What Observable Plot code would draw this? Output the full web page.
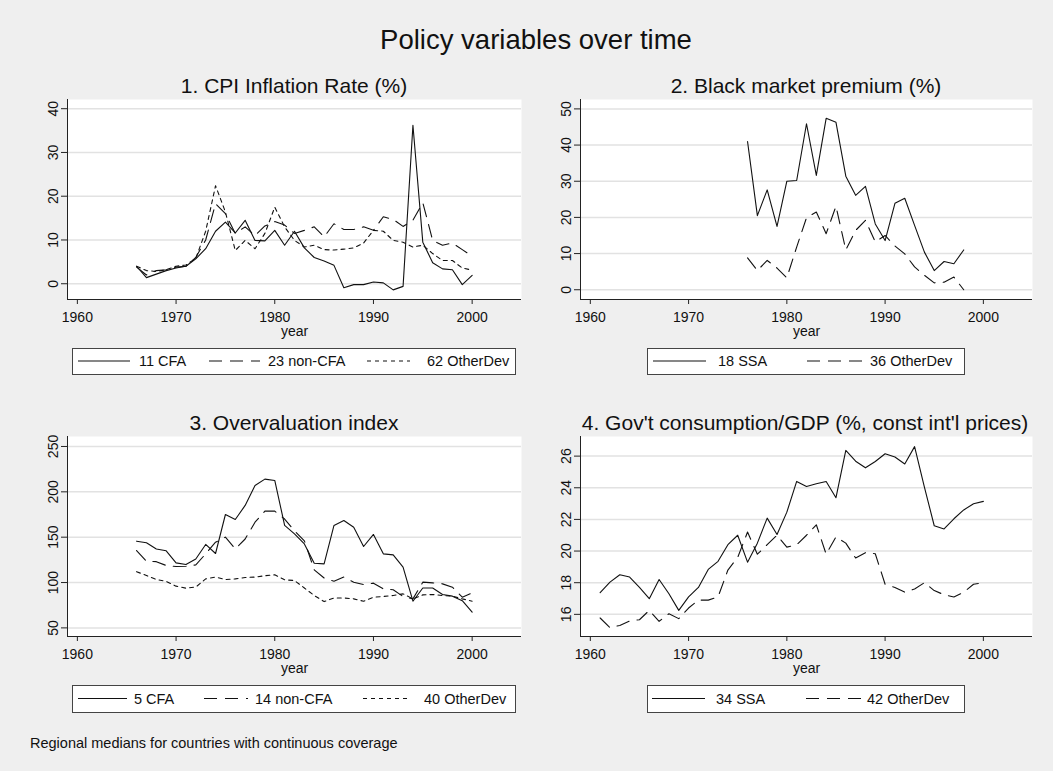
<!DOCTYPE html>
<html><head><meta charset="utf-8">
<script src="https://cdn.jsdelivr.net/npm/d3@7"></script>
<script src="https://cdn.jsdelivr.net/npm/@observablehq/plot@0.6"></script>
<style>
body{margin:0;background:#efefef;}
#root{position:relative;width:1053px;height:771px;background:#efefef;overflow:hidden}
#root > svg{position:absolute}
</style></head><body><div id="root"></div>
<script>
// ---------- data ----------
const years1 = [1966,1967,1968,1969,1970,1971,1972,1973,1974,1975,1976,1977,1978,1979,1980,1981,1982,1983,1984,1985,1986,1987,1988,1989,1990,1991,1992,1993,1994,1995,1996,1997,1998,1999,2000];
const cpiCFA    = [4.0,1.4,2.2,3.0,3.6,4.0,5.7,8.0,12.0,14.1,11.6,14.5,9.9,9.8,12.2,8.8,12.0,8.2,6.0,5.2,4.2,-0.9,-0.2,-0.2,0.4,0.2,-1.4,-0.6,36.2,9.5,4.8,3.4,3.2,-0.2,1.9];
const cpiNonCFA = [3.8,2.0,3.0,3.2,3.8,4.0,6.0,10.0,18.3,16.0,11.5,13.0,11.0,13.2,14.2,13.4,11.5,12.2,13.0,10.7,13.7,12.4,12.4,13.0,12.2,15.3,14.7,13.1,14.5,18.5,9.9,8.8,9.3,7.8,6.3];
const cpiOther  = [4.0,3.0,2.8,3.2,4.0,4.3,5.8,12.0,22.4,16.4,7.6,9.9,8.0,11.5,17.5,13.0,9.9,8.4,8.8,7.8,7.7,7.9,8.2,9.3,12.2,12.0,9.9,9.5,8.4,8.8,6.9,5.3,5.3,3.6,3.1];

const years2 = [1976,1977,1978,1979,1980,1981,1982,1983,1984,1985,1986,1987,1988,1989,1990,1991,1992,1993,1994,1995,1996,1997,1998];
const bmpSSA   = [41.0,20.5,27.6,17.5,30.0,30.2,45.9,31.6,47.4,46.3,31.4,26.1,28.6,18.2,13.6,23.9,25.3,17.8,10.4,5.3,7.8,7.2,11.0];
const bmpOther = [8.8,5.3,8.1,6.0,3.3,11.8,19.9,21.5,15.5,23.1,11.0,16.4,19.2,13.2,15.0,12.1,9.9,6.3,4.0,1.9,2.1,3.5,0.0];

const years3 = years1;
const ovCFA    = [145.6,143.8,137,135,121.7,119.9,126,142,132,175,169.5,185,207,214,212.5,163,153.7,142.6,121.3,120.6,162.9,168.4,161,139.7,153,131.6,130.5,117,79.4,94,94,86.8,85,80,67.3];
const ovNonCFA = [135.3,123.5,123,118.8,117.6,118,119.5,131.6,144.5,150,137,148,166.5,178.7,178.7,170,157,146,114,105,101.5,106,100.4,97.8,99.3,93,92,84.6,82,100.4,99.6,98.5,94.9,83.8,88.6];
const ovOther  = [112,107.7,103.3,101.3,96,93.8,95,104,106,103.3,104,105.5,106,107.5,108.5,103,102.2,94,85.7,79,83,83,82,79.4,83.8,84.6,85.7,87.5,82,86.4,86.8,85.7,85,82,79.4];

const years4 = [1961,1962,1963,1964,1965,1966,1967,1968,1969,1970,1971,1972,1973,1974,1975,1976,1977,1978,1979,1980,1981,1982,1983,1984,1985,1986,1987,1988,1989,1990,1991,1992,1993,1994,1995,1996,1997,1998,1999,2000];
const gcSSA   = [17.37,18.04,18.5,18.36,17.7,16.99,18.2,17.3,16.25,17.1,17.7,18.84,19.35,20.4,21.0,19.3,20.5,22.08,21.05,22.46,24.4,24.08,24.25,24.4,23.37,26.36,25.68,25.26,25.66,26.15,25.94,25.5,26.6,24.04,21.6,21.4,22.04,22.6,22.99,23.14];
const gcOther = [15.77,15.16,15.3,15.58,15.66,16.25,15.56,16.04,15.73,16.4,16.9,16.9,17.1,18.8,19.6,21.2,19.8,20.4,21.0,20.25,20.4,21.0,21.66,19.8,20.9,20.5,19.56,19.9,19.83,17.9,17.7,17.4,17.6,18.0,17.5,17.24,17.1,17.4,17.9,18.0];

const xTicks = [1960,1970,1980,1990,2000];
const yTicks1 = [0,10,20,30,40];
const yTicks2 = [0,10,20,30,40,50];
const yTicks3 = [50,100,150,200,250];
const yTicks4 = [16,18,20,22,24,26];

const mainTitle = "Policy variables over time";
const titles = ["1. CPI Inflation Rate (%)","2. Black market premium (%)","3. Overvaluation index","4. Gov't consumption/GDP (%, const int'l prices)"];
const legend1 = ["11 CFA","23 non-CFA","62 OtherDev"];
const legend2 = ["18 SSA","36 OtherDev"];
const legend3 = ["5 CFA","14 non-CFA","40 OtherDev"];
const legend4 = ["34 SSA","42 OtherDev"];
const caption = "Regional medians for countries with continuous coverage";

// ---------- styling ----------
const FONT = '"Liberation Sans", Arial, Helvetica, sans-serif';
const INK = "#111";
const SOLID = null, LONG = "13,8", SHORT = "4,4";
const xDomain = [1959, 2005];
const root = document.getElementById("root");

function rows(years, vals){ return years.map((y,i)=>({year:y, value:vals[i]})); }

function panel(cfg){
  const marks = [
    Plot.frame({fill:"white", stroke:"none"}),
    Plot.gridY(cfg.yTicks, {stroke:"#e2e2e2", strokeOpacity:1, strokeWidth:1.5}),
    Plot.ruleX([xDomain[0]], {stroke:"#222", strokeWidth:1}),
    Plot.ruleY([cfg.yDomain[0]], {stroke:"#222", strokeWidth:1}),
    Plot.axisX(xTicks, {tickSize:5, tickPadding:8, tickFormat:d=>String(d), label:null, fontSize:14, stroke:"#222", fill:"#111"}),
    Plot.axisY(cfg.yTicks, {tickSize:6, tickPadding:4, tickRotate:-90, tickFormat:d=>String(d), label:null, fontSize:14, stroke:"#222", fill:"#111"}),
    ...cfg.series.map(s => Plot.line(rows(cfg.years, s.values), {x:"year", y:"value", stroke:INK, strokeWidth:1.1, strokeDasharray:s.dash ?? undefined})),
    Plot.text(["year"], {frameAnchor:"bottom", dy:36, lineAnchor:"bottom", fontSize:14, fill:"#111"})
  ];
  const svg = Plot.plot({
    width: cfg.width, height: 280,
    marginLeft: cfg.mL, marginRight: cfg.mR, marginTop: 29, marginBottom: 51,
    x: {domain: xDomain},
    y: {domain: cfg.yDomain},
    style: {fontFamily: FONT, fontSize: "14px", background: "transparent", overflow: "visible"},
    marks
  });
  svg.style.left = cfg.left + "px";
  svg.style.top = cfg.top + "px";
  root.appendChild(svg);
}

// overlay for titles, legends, caption
const ov = d3.select(root).append("svg").attr("width",1053).attr("height",771)
  .style("left","0px").style("top","0px").style("font-family",FONT);

ov.append("text").attr("x",536).attr("y",48.5).attr("text-anchor","middle")
  .attr("font-size",27.5).attr("fill","#111").text(mainTitle);
[[294,92.5],[806,92.5],[294,430],[805,430]].forEach(([x,y],i)=>{
  ov.append("text").attr("x",x).attr("y",y).attr("text-anchor","middle")
    .attr("font-size",21).attr("fill","#111").text(titles[i]);
});
ov.append("text").attr("x",30).attr("y",748).attr("font-size",14.5).attr("fill","#111").text(caption);

function legend(box, items){
  ov.append("rect").attr("x",box.x+0.5).attr("y",box.y+0.5).attr("width",box.w).attr("height",box.h)
    .attr("fill","white").attr("stroke","#444").attr("stroke-width",1);
  const cy = box.y + box.h/2;
  items.forEach(it=>{
    ov.append("line").attr("x1",it.x1).attr("x2",it.x2).attr("y1",cy).attr("y2",cy)
      .attr("stroke",INK).attr("stroke-width",1.2).attr("stroke-dasharray",it.dash||null);
    ov.append("text").attr("x",it.tx).attr("y",cy+5.4).attr("font-size",14.5).attr("fill","#111").text(it.label);
  });
}
legend({x:72,y:348,w:443,h:26},[
  {x1:78,x2:130,dash:SOLID,tx:139,label:legend1[0]},
  {x1:209,x2:260,dash:LONG,tx:268,label:legend1[1]},
  {x1:367,x2:410,dash:SHORT,tx:427,label:legend1[2]}]);
legend({x:647,y:348,w:317,h:26},[
  {x1:653,x2:706,dash:SOLID,tx:718,label:legend2[0]},
  {x1:807,x2:862,dash:LONG,tx:870,label:legend2[1]}]);
legend({x:72,y:685,w:443,h:27},[
  {x1:78,x2:127,dash:SOLID,tx:134,label:legend3[0]},
  {x1:204,x2:248,dash:LONG,tx:255,label:legend3[1]},
  {x1:363,x2:410,dash:SHORT,tx:424,label:legend3[2]}]);
legend({x:647,y:685,w:317,h:27},[
  {x1:652,x2:705,dash:SOLID,tx:716,label:legend4[0]},
  {x1:806,x2:861,dash:LONG,tx:867,label:legend4[1]}]);

panel({left:0, top:70, width:530, mL:67, mR:9, years:years1, yDomain:[-3.6,42.1], yTicks:yTicks1,
  series:[{values:cpiCFA,dash:SOLID},{values:cpiNonCFA,dash:LONG},{values:cpiOther,dash:SHORT}]});
panel({left:530, top:70, width:523, mL:50, mR:21, years:years2, yDomain:[-2.7,52.6], yTicks:yTicks2,
  series:[{values:bmpSSA,dash:SOLID},{values:bmpOther,dash:LONG}]});
panel({left:0, top:407, width:530, mL:67, mR:9, years:years3, yDomain:[40.5,261], yTicks:yTicks3,
  series:[{values:ovCFA,dash:SOLID},{values:ovNonCFA,dash:LONG},{values:ovOther,dash:SHORT}]});
panel({left:530, top:407, width:523, mL:50, mR:21, years:years4, yDomain:[14.6,27.24], yTicks:yTicks4,
  series:[{values:gcSSA,dash:SOLID},{values:gcOther,dash:LONG}]});
</script></body></html>
